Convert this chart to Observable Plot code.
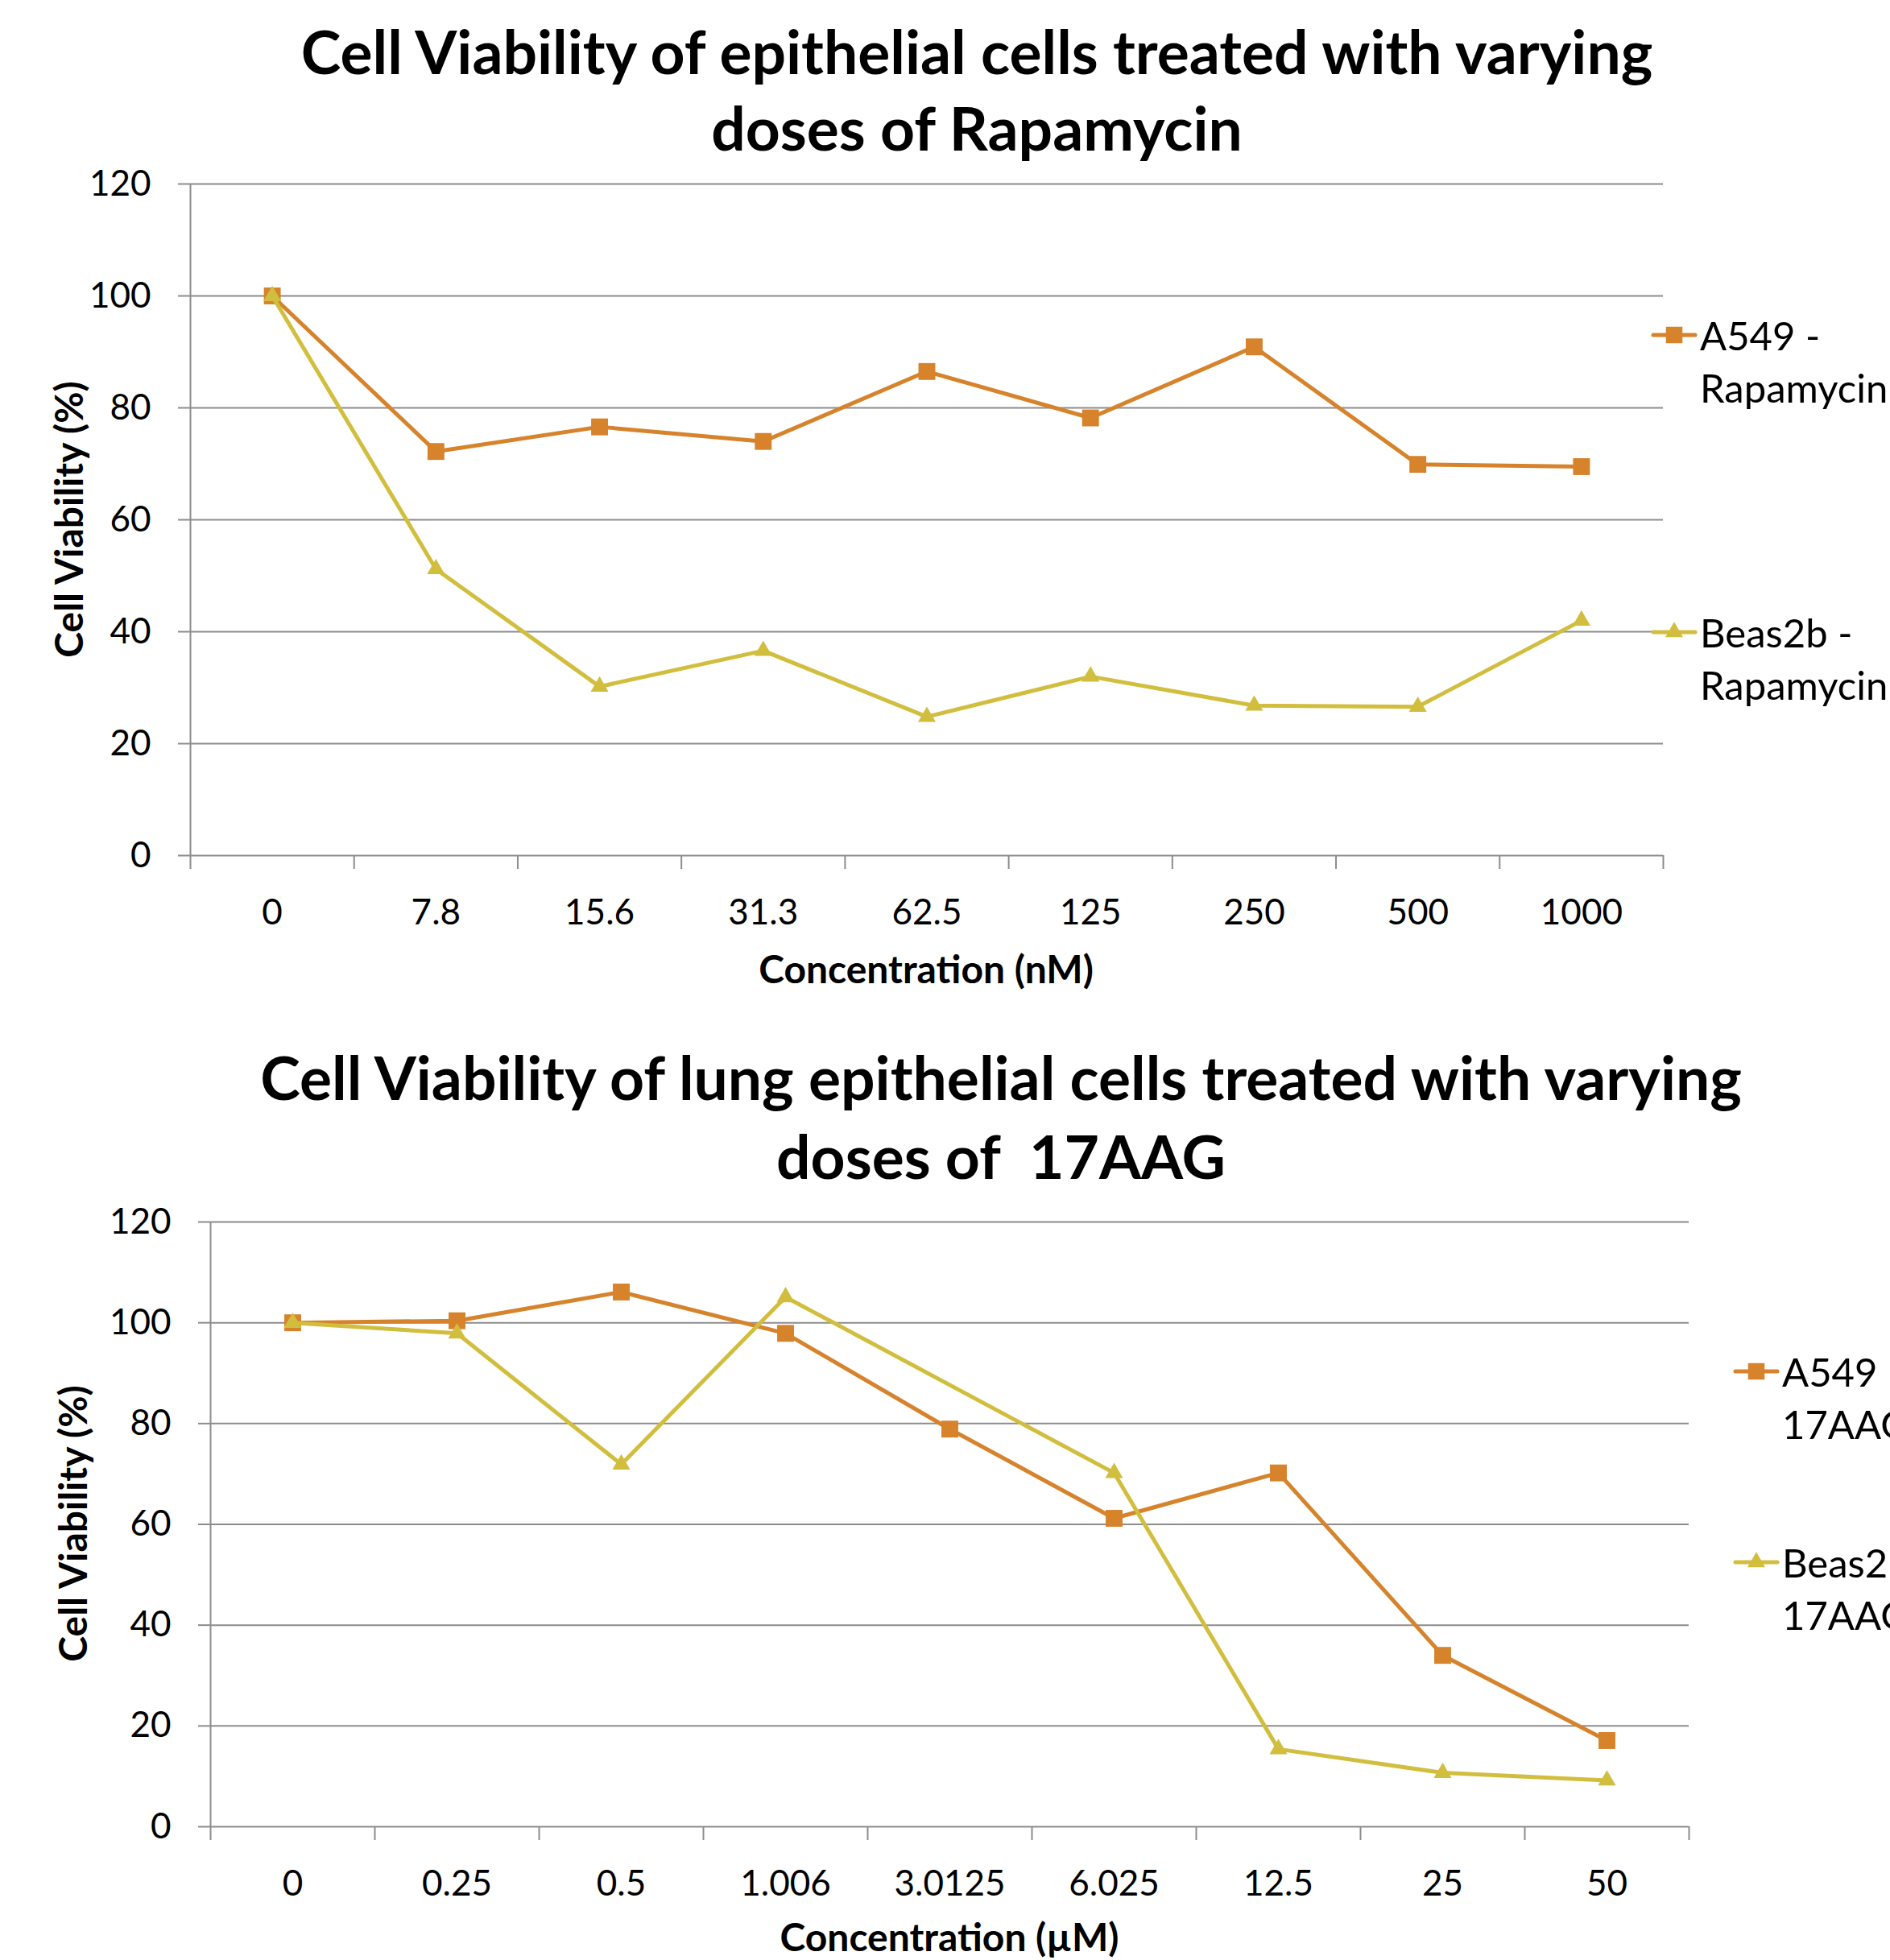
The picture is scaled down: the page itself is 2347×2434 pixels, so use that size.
<!DOCTYPE html>
<html><head><meta charset="utf-8">
<script src="https://cdn.jsdelivr.net/npm/d3@7"></script>
<script src="https://cdn.jsdelivr.net/npm/@observablehq/plot@0.6"></script>
<style>
html,body{margin:0;padding:0;background:#fff;}
#page{position:relative;width:2347px;height:2434px;overflow:hidden;background:#fff;font-family:Lato,"Open Sans",sans-serif;color:#000;}
.abs{position:absolute;}
.title{font-weight:700;font-size:75px;text-align:center;white-space:pre;transform:translateX(-50%);}
.axtitle{font-weight:700;font-size:48px;white-space:pre;line-height:60px;}
.legtext{font-size:49px;line-height:65px;white-space:pre;}
</style></head>
<body><div id="page"></div>
<script>
// ---- data ----
const rapaTitle = "Cell Viability of epithelial cells treated with varying\ndoses of Rapamycin";
const aagTitle = "Cell Viability of lung epithelial cells treated with varying\ndoses of  17AAG";
const yTitle = "Cell Viability (%)";
const rapaXTitle = "Concentration (nM)";
const aagXTitle = "Concentration (µM)";
const rapaConc = ["0","7.8","15.6","31.3","62.5","125","250","500","1000"];
const rapaA549 = [100,72.2,76.6,74.0,86.5,78.2,90.9,69.9,69.5];
const rapaBeas = [100,51.2,30.2,36.6,24.8,32.0,26.8,26.6,42.0];
const rapaNames = ["A549 -\nRapamycin","Beas2b -\nRapamycin"];
const aagConc = ["0","0.25","0.5","1.006","3.0125","6.025","12.5","25","50"];
const aagA549 = [100,100.4,106.1,97.9,78.9,61.2,70.2,34.0,17.1];
const aagBeas = [100,97.9,71.9,105.1,null,70.2,15.4,10.7,9.2];
const aagNames = ["A549 -\n17AAG","Beas2b -\n17AAG"];
const yTicks = [0,20,40,60,80,100,120];

// ---- style ----
const COL_A = "#D6832C";
const COL_B = "#D2BE3E";
const GRID = "#8c8c8c";
const page = document.getElementById("page");

function el(cls, text, css) {
  const d = document.createElement("div");
  d.className = "abs " + cls;
  d.textContent = text;
  Object.assign(d.style, css);
  page.appendChild(d);
  return d;
}

function swatch(color, symbol, css) {
  const ns = "http://www.w3.org/2000/svg";
  const s = document.createElementNS(ns, "svg");
  s.setAttribute("width", 58); s.setAttribute("height", 26);
  s.style.position = "absolute";
  Object.assign(s.style, css);
  const l = document.createElementNS(ns, "line");
  l.setAttribute("x1", 3); l.setAttribute("x2", 55); l.setAttribute("y1", 13); l.setAttribute("y2", 13);
  l.setAttribute("stroke", color); l.setAttribute("stroke-width", 5); l.setAttribute("stroke-linecap", "round");
  s.appendChild(l);
  const p = document.createElementNS(ns, "path");
  p.setAttribute("d", d3.symbol(symbol === "square" ? d3.symbolSquare : d3.symbolTriangle, symbol === "square" ? 420 : 210)());
  p.setAttribute("transform", "translate(29,13)");
  p.setAttribute("fill", color);
  s.appendChild(p);
  page.appendChild(s);
}

function chart(cfg, conc, a, b, names, title, xTitle) {
  const n = conc.length;
  const A = [], B = [];
  conc.forEach((c, i) => {
    if (a[i] != null) A.push({x: i + 0.5, v: a[i]});
    if (b[i] != null) B.push({x: i + 0.5, v: b[i]});
  });
  const svg = Plot.plot({
    width: 2347, height: cfg.height,
    marginLeft: cfg.ml, marginRight: cfg.mr, marginTop: cfg.mt, marginBottom: cfg.mb,
    x: {type: "linear", domain: [0, n]},
    y: {type: "linear", domain: [0, 120]},
    style: {fontFamily: "Lato", fontSize: "44px", background: "transparent", color: "#000", overflow: "visible"},
    marks: [
      Plot.gridY(yTicks, {stroke: GRID, strokeOpacity: 1, strokeWidth: 2}),
      Plot.axisY(yTicks, {tickSize: 15, tickPadding: 34, stroke: GRID, strokeWidth: 2, label: null}),
      Plot.axisX(d3.range(n + 1), {tickSize: 17, tickFormat: () => "", stroke: GRID, strokeWidth: 2, label: null}),
      Plot.axisX(d3.range(n).map(i => i + 0.5), {tickSize: 0, tickPadding: 54, tickFormat: d => conc[Math.floor(d)], label: null}),
      Plot.ruleX([0], {stroke: GRID, strokeWidth: 2}),
      Plot.line(A, {x: "x", y: "v", stroke: COL_A, strokeWidth: 5}),
      Plot.dot(A, {x: "x", y: "v", symbol: "square", r: 11.8, fill: COL_A}),
      Plot.line(B, {x: "x", y: "v", stroke: COL_B, strokeWidth: 5}),
      Plot.dot(B, {x: "x", y: "v", symbol: "triangle", r: 8.2, fill: COL_B})
    ]
  });
  svg.style.position = "absolute";
  svg.style.left = "0px";
  svg.style.top = cfg.top + "px";
  page.appendChild(svg);

  el("title", title, {left: cfg.titleX + "px", top: cfg.titleTop + "px", lineHeight: cfg.titleLH + "px"});
  el("axtitle", xTitle, {left: cfg.xtX + "px", top: cfg.xtY + "px", transform: "translate(-50%,-50%)"});
  el("axtitle", yTitle, {left: cfg.ytX + "px", top: cfg.ytY + "px", transform: "translate(-50%,-50%) rotate(-90deg)"});
  // legend
  swatch(COL_A, "square", {left: cfg.swX + "px", top: (cfg.leg[0] - 13) + "px"});
  el("legtext", names[0], {left: cfg.legTextX + "px", top: (cfg.leg[0] - 32) + "px"});
  swatch(COL_B, "triangle", {left: cfg.swX + "px", top: (cfg.leg[1] - 13) + "px"});
  el("legtext", names[1], {left: cfg.legTextX + "px", top: (cfg.leg[1] - 32) + "px"});
}

chart({top: 190, height: 1080, ml: 236, mr: 282, mt: 38, mb: 208,
       titleX: 1213, titleTop: 16, titleLH: 95,
       xtX: 1150, xtY: 1203, ytX: 85, ytY: 645,
       swX: 2050, legTextX: 2111, leg: [416, 785]},
      rapaConc, rapaA549, rapaBeas, rapaNames, rapaTitle, rapaXTitle);

chart({top: 1480, height: 954, ml: 261, mr: 250, mt: 37, mb: 166,
       titleX: 1243, titleTop: 1288, titleLH: 98,
       xtX: 1179, xtY: 2405, ytX: 90, ytY: 1892,
       swX: 2152, legTextX: 2213, leg: [1703, 1940]},
      aagConc, aagA549, aagBeas, aagNames, aagTitle, aagXTitle);
</script></body></html>
